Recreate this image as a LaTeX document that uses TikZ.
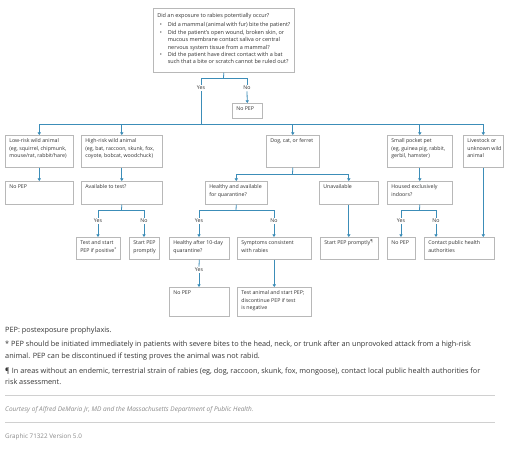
\documentclass[tikz,border=0pt]{standalone}
\usepackage{fontspec}
\setmainfont{Open Sans}
\usetikzlibrary{arrows.meta}
\definecolor{linec}{HTML}{3C8DB8}
\definecolor{boxc}{HTML}{B8B8B8}
\definecolor{txtc}{HTML}{333333}
\definecolor{rulec}{HTML}{D0D0D0}
\definecolor{grayt}{HTML}{8A8A8A}
\newcommand\bxfont{\fontsize{5.25pt}{7.5pt}\selectfont}
\newcommand\mkbox[6]{\node[boxst] (#1) at (#2,#3) {\parbox[c][\dimexpr#5pt-7pt\relax][t]{\dimexpr#4pt-8pt\relax}{\bxfont\vspace{-1.4pt}\begin{tabular}[t]{@{}l@{}}#6\end{tabular}}};}
\newcommand\bitem[1]{\par\vspace{0.6pt}\noindent\hspace*{2.5pt}\makebox[8pt][l]{\textbullet}\parbox[t]{\dimexpr\linewidth-10.5pt\relax}{#1}}
\tikzset{
  boxst/.style={draw=boxc, line width=0.6pt, fill=white, anchor=north west, inner xsep=4pt, inner ysep=3.5pt, text=txtc},
  lbl/.style={font=\bxfont, text=txtc, inner sep=1.2pt},
  ln/.style={draw=linec, line width=0.8pt},
  arr/.style={ln, -{Triangle[length=2.6pt,width=3.2pt]}},
  foot/.style={anchor=base west, inner sep=0pt, text=txtc, font=\fontsize{7.3pt}{11pt}\selectfont},
}
\begin{document}
\begin{tikzpicture}[x=1pt,y=-1pt]
\useasboundingbox[fill=white] (0,0) rectangle (514,448);
% top box
\node[boxst, inner ysep=4pt] (top) at (153,8) {\parbox[c][56pt][t]{133pt}{\raggedright\fontsize{5.5pt}{7.5pt}\selectfont
\vspace*{1.5pt}Did an exposure to rabies potentially occur?
\bitem{Did a mammal (animal with fur) bite the patient?}
\bitem{Did the patient's open wound, broken skin, or\\mucous membrane contact saliva or central\\nervous system tissue from a mammal?}
\bitem{Did the patient have direct contact with a bat\\such that a bite or scratch cannot be ruled out?}}};
\mkbox{nopepA}{232}{103}{30}{15}{No PEP}
% row 1
\mkbox{low}{5}{135}{68}{32}{Low-risk wild animal\\(eg, squirrel, chipmunk,\\mouse/rat, rabbit/hare)}
\mkbox{high}{81}{135}{81}{32}{High-risk wild animal\\(eg, bat, raccoon, skunk, fox,\\coyote, bobcat, woodchuck)}
\mkbox{dog}{266}{135}{53}{32}{Dog, cat, or ferret}
\mkbox{pocket}{387}{135}{65}{32}{Small pocket pet\\(eg, guinea pig, rabbit,\\gerbil, hamster)}
\mkbox{live}{463}{135}{40}{32}{Livestock or\\unknown wild\\animal}
% row 2
\mkbox{nopepB}{5}{181}{68}{23}{No PEP}
\mkbox{avail}{81}{181}{81}{23}{Available to test?}
\mkbox{healthy}{205}{181}{62}{23}{Healthy and available\\for quarantine?}
\mkbox{unavail}{319}{181}{59}{23}{Unavailable}
\mkbox{housed}{387}{181}{65}{23}{Housed exclusively\\indoors?}
% row 3
\mkbox{testpos}{76}{237}{44}{22}{Test and start\\PEP if positive\textsuperscript{*}}
\mkbox{startA}{129}{237}{30}{22}{Start PEP\\promptly}
\mkbox{after}{169}{237}{60}{22}{Healthy after 10-day\\quarantine?}
\mkbox{sympt}{237}{237}{74}{22}{Symptoms consistent\\with rabies}
\mkbox{startB}{320}{237}{58}{22}{Start PEP promptly\textsuperscript{¶}}
\mkbox{nopepC}{387}{237}{28}{22}{No PEP}
\mkbox{contact}{424}{237}{70}{22}{Contact public health\\authorities}
% row 4
\mkbox{nopepD}{169}{287}{60}{29}{No PEP}
\mkbox{testan}{237}{287}{74}{29}{Test animal and start PEP;\\discontinue PEP if test\\is negative}
% labels
\node[lbl] (yesA) at (201,88) {Yes};
\node[lbl] (noA) at (247,88) {No};
\node[lbl] (yesB) at (98,221) {Yes};
\node[lbl] (noB) at (144,221) {No};
\node[lbl] (yesC) at (199,221) {Yes};
\node[lbl] (noC) at (274,221) {No};
\node[lbl] (yesD) at (401,221) {Yes};
\node[lbl] (noD) at (436,221) {No};
\node[lbl] (yesE) at (199,270) {Yes};
% junction coordinates
\coordinate (j0) at (223.5,78);
\coordinate (bus) at (223.5,124);
\coordinate (j1) at (292.5,174);
\coordinate (j2) at (121.5,210);
\coordinate (j3) at (236,210);
\coordinate (j4) at (419.5,210);
% connectors
\draw[ln] (top.south) -- (j0);
\draw[ln] (j0 -| yesA) -- (j0 -| noA);
\draw[ln] (j0 -| yesA) -- (yesA.north);
\draw[ln] (j0 -| noA) -- (noA.north);
\draw[arr] (noA.south) -- (nopepA.north);
\draw[ln] (yesA.south) -- (bus -| yesA);
\draw[ln] (bus -| low) -- (bus -| live);
\foreach \n in {low,high,dog,pocket,live}{\draw[arr] (bus -| \n) -- (\n.north);}
\draw[arr] (low.south) -- (nopepB.north);
\draw[arr] (high.south) -- (avail.north);
\draw[arr] (pocket.south) -- (housed.north);
\draw[arr] (live.south) -- (live.south |- contact.north);
\draw[ln] (dog.south) -- (j1);
\draw[ln] (j1 -| healthy) -- (j1 -| unavail);
\draw[arr] (j1 -| healthy) -- (healthy.north);
\draw[arr] (j1 -| unavail) -- (unavail.north);
\draw[arr] (unavail.south) -- (unavail.south |- startB.north);
% avail branch
\draw[ln] (avail.south) -- (j2);
\draw[ln] (j2 -| yesB) -- (j2 -| noB);
\draw[ln] (j2 -| yesB) -- (yesB.north);
\draw[ln] (j2 -| noB) -- (noB.north);
\draw[arr] (yesB.south) -- (yesB.south |- testpos.north);
\draw[arr] (noB.south) -- (noB.south |- startA.north);
% healthy branch
\draw[ln] (healthy.south) -- (j3);
\draw[ln] (j3 -| yesC) -- (j3 -| noC);
\draw[ln] (j3 -| yesC) -- (yesC.north);
\draw[ln] (j3 -| noC) -- (noC.north);
\draw[arr] (yesC.south) -- (yesC.south |- after.north);
\draw[arr] (noC.south) -- (noC.south |- sympt.north);
% housed branch
\draw[ln] (housed.south) -- (j4);
\draw[ln] (j4 -| yesD) -- (j4 -| noD);
\draw[ln] (j4 -| yesD) -- (yesD.north);
\draw[ln] (j4 -| noD) -- (noD.north);
\draw[arr] (yesD.south) -- (yesD.south |- nopepC.north);
\draw[arr] (noD.south) -- (noD.south |- contact.north);
% after quarantine
\draw[ln] (after.south) -- (yesE.north);
\draw[arr] (yesE.south) -- (yesE.south |- nopepD.north);
\draw[arr] (sympt.south) -- (testan.north);
% footnotes
\node[foot] (f0) at (5,332) {PEP: postexposure prophylaxis.};
\node[foot] (f1) at (5,346.5) {* PEP should be initiated immediately in patients with severe bites to the head, neck, or trunk after an unprovoked attack from a high-risk};
\node[foot] (f2) at (5,358) {animal. PEP can be discontinued if testing proves the animal was not rabid.};
\node[foot] (f3) at (5,373) {¶ In areas without an endemic, terrestrial strain of rabies (eg, dog, raccoon, skunk, fox, mongoose), contact local public health authorities for};
\node[foot] (f4) at (5,384) {risk assessment.};
\draw[rulec, line width=0.6pt] (5,395.5) -- (495,395.5);
\node[anchor=base west, inner sep=0pt, text=grayt, font=\fontsize{6.5pt}{7pt}\selectfont\itshape] (cr) at (5,411) {Courtesy of Alfred DeMaria Jr, MD and the Massachusetts Department of Public Health.};
\draw[rulec, line width=0.6pt] (5,422) -- (495,422);
\node[anchor=base west, inner sep=0pt, text=grayt, font=\fontsize{6.3pt}{7pt}\selectfont] (gr) at (5,438) {Graphic 71322 Version 5.0};
\end{tikzpicture}
\end{document}
